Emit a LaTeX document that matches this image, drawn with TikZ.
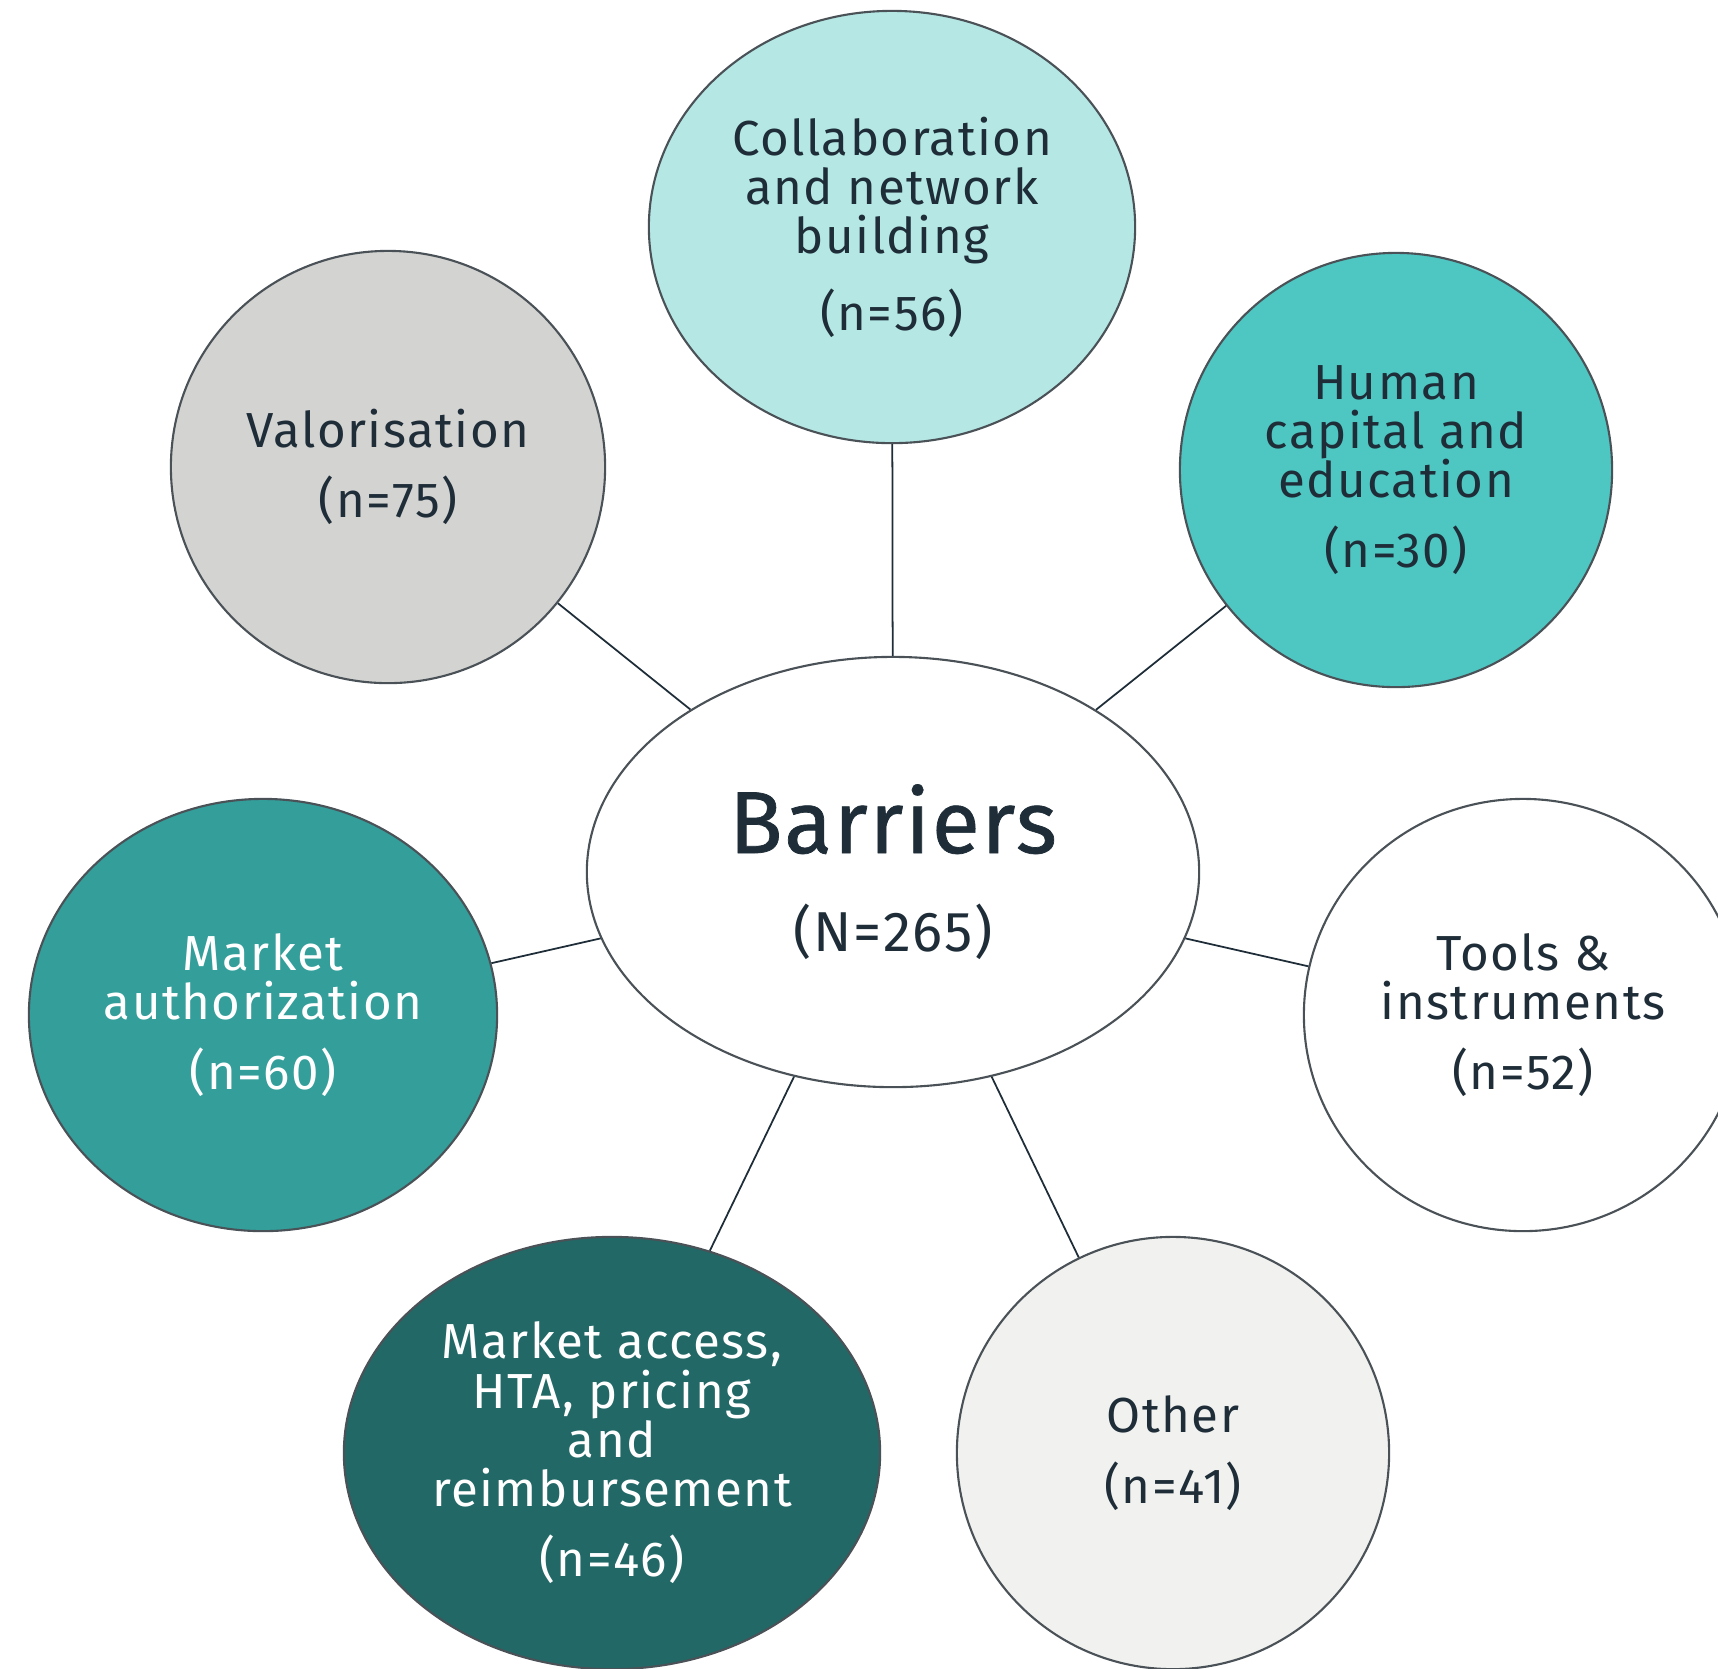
\documentclass[tikz,border=0pt]{standalone}
\usepackage{fontspec}
\setmainfont{Fira Sans}[LetterSpace=3]
\newfontfamily\heavyfont{Fira Sans}[FakeBold=0.8,LetterSpace=2]
\usetikzlibrary{shapes.geometric}
\definecolor{txt}{HTML}{1E2D38}
\definecolor{bord}{HTML}{4A5257}
\definecolor{cCollab}{HTML}{B5E8E5}
\definecolor{cHuman}{HTML}{4EC6C2}
\definecolor{cAuth}{HTML}{339E9A}
\definecolor{cAccess}{HTML}{216866}
\definecolor{cValor}{HTML}{D3D3D2}
\definecolor{cOther}{HTML}{F1F2F0}
\begin{document}
\begin{tikzpicture}[x=0.01cm,y=-0.01cm,
  bub/.style={ellipse, draw=bord, line width=0.6pt, inner sep=0pt, align=center, text=txt,
    font=\fontsize{14}{14}\selectfont},
  link/.style={draw=txt, line width=0.5pt}]
\useasboundingbox (0,0) rectangle (1718,1668);
\clip (0,0) rectangle (1718,1668);
\node[bub, fill=white, minimum width=6.12cm, minimum height=4.30cm] (center) at (893,872)
  {{\heavyfont\fontsize{25}{25}\selectfont Barriers}\\[14pt]{\fontsize{16}{16}\selectfont (N=265)}};
\node[bub, fill=cCollab, minimum width=4.86cm, minimum height=4.32cm] (collab) at (892,227)
  {Collaboration\\and network\\building\\[6pt](n=56)};
\node[bub, fill=cValor, minimum width=4.34cm, minimum height=4.32cm] (valor) at (388,467)
  {Valorisation\\[6pt](n=75)};
\node[bub, fill=cHuman, minimum width=4.32cm, minimum height=4.34cm] (human) at (1396,470)
  {Human\\capital and\\education\\[6pt](n=30)};
\node[bub, fill=cAuth, text=white, minimum width=4.68cm, minimum height=4.32cm] (auth) at (263,1015)
  {Market\\authorization\\[6pt](n=60)};
\node[bub, fill=white, minimum width=4.38cm, minimum height=4.32cm] (tools) at (1523,1015)
  {Tools \&\\instruments\\[6pt](n=52)};
\node[bub, fill=cAccess, text=white, minimum width=5.36cm, minimum height=4.32cm] (access) at (612,1453)
  {Market access,\\HTA, pricing\\and\\reimbursement\\[6pt](n=46)};
\node[bub, fill=cOther, minimum width=4.32cm, minimum height=4.32cm] (other) at (1173,1453)
  {Other\\[6pt](n=41)};
\draw[link] (center) -- (collab);
\draw[link] (center) -- (valor);
\draw[link] (center) -- (human);
\draw[link] (center) -- (auth);
\draw[link] (center) -- (tools);
\draw[link] (center) -- (access);
\draw[link] (center) -- (other);
\end{tikzpicture}
\end{document}
